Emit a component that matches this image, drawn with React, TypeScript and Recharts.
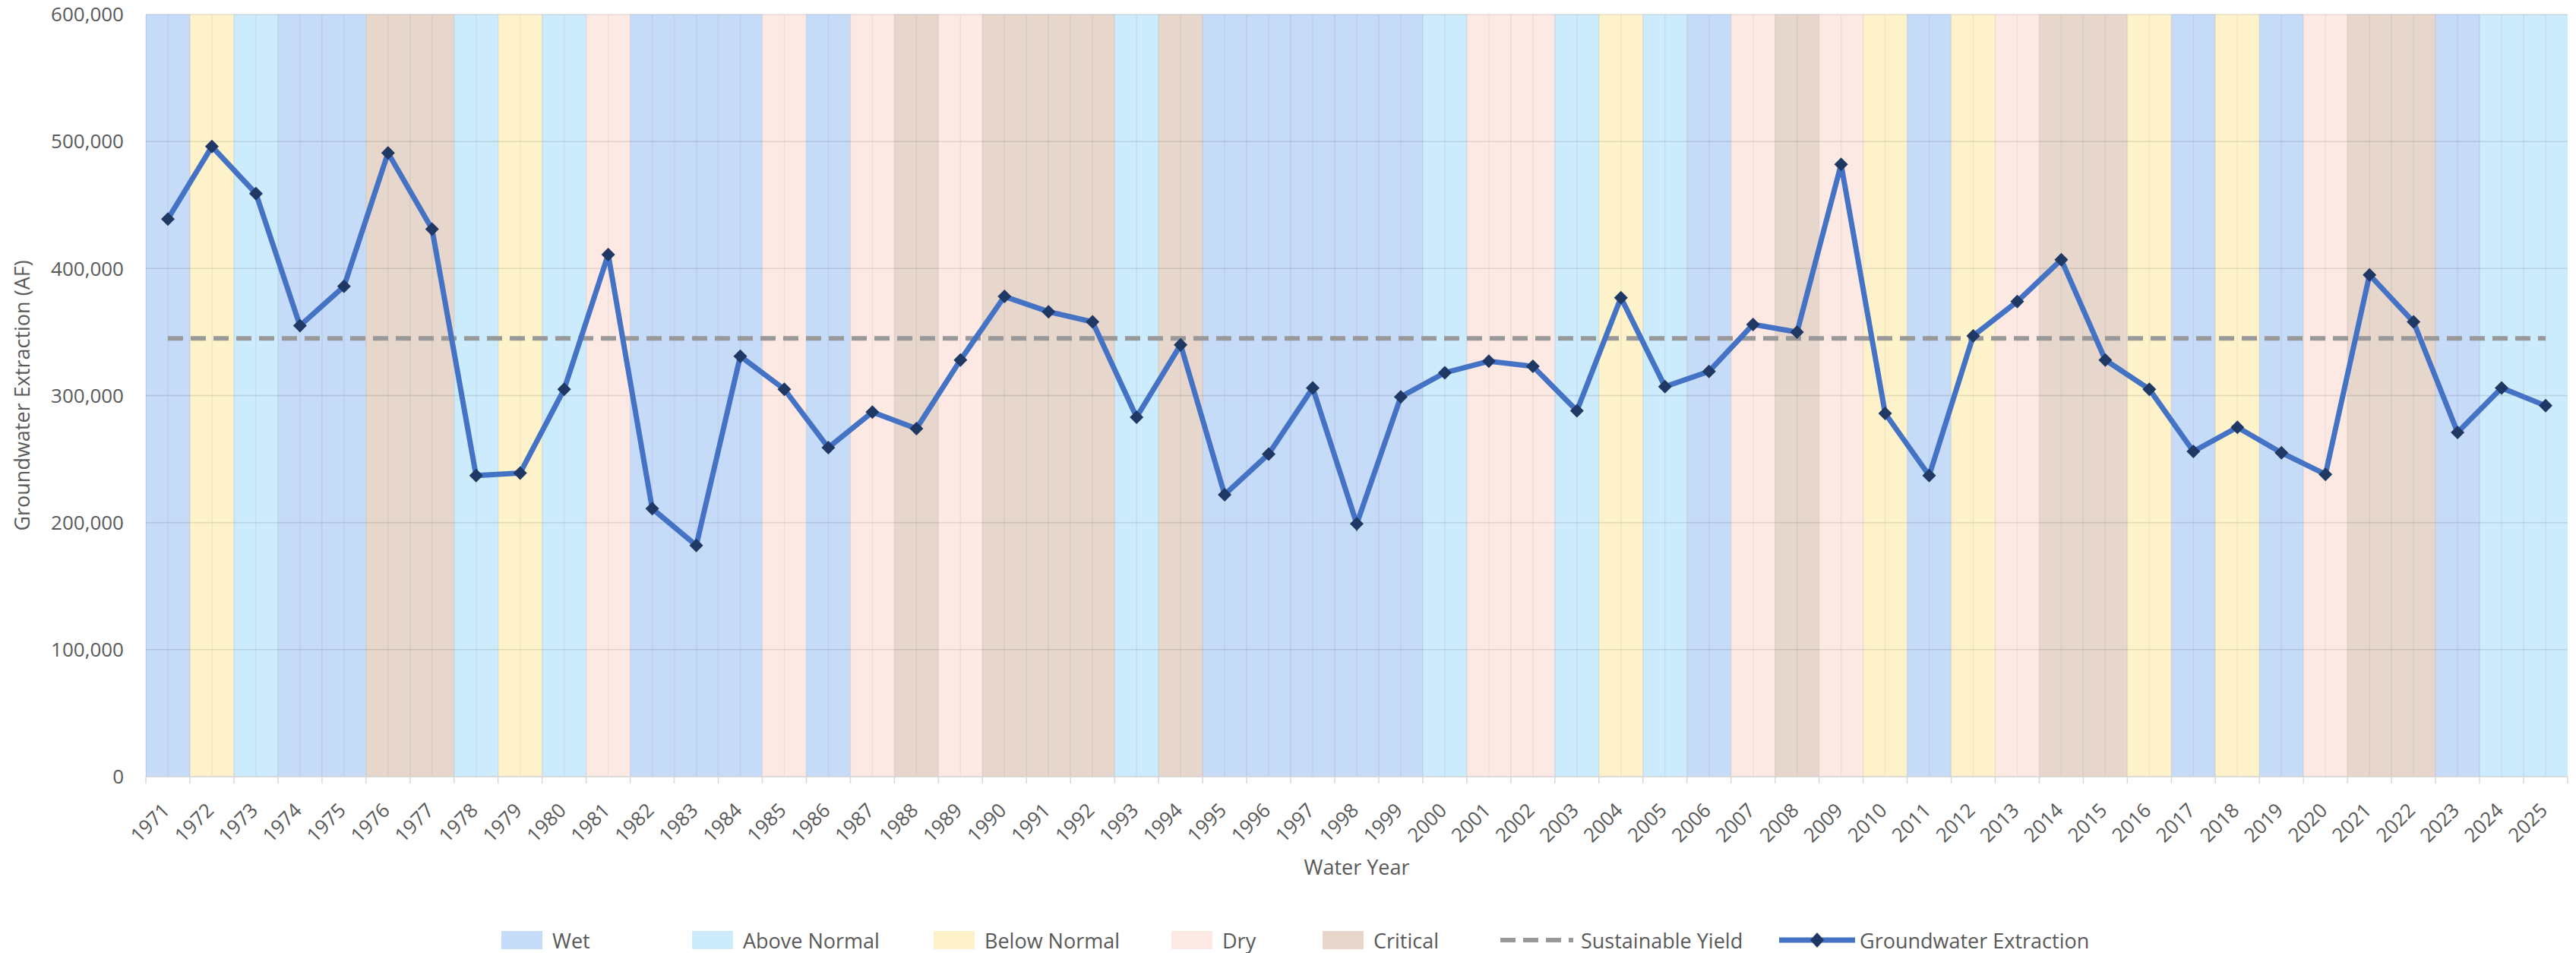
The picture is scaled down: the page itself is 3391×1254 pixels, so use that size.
import React from 'react';
import { ComposedChart, Bar, Line, XAxis, YAxis, ReferenceLine, Legend } from 'recharts';

const years = [
  '1971','1972','1973','1974','1975','1976','1977','1978','1979','1980',
  '1981','1982','1983','1984','1985','1986','1987','1988','1989','1990',
  '1991','1992','1993','1994','1995','1996','1997','1998','1999','2000',
  '2001','2002','2003','2004','2005','2006','2007','2008','2009','2010',
  '2011','2012','2013','2014','2015','2016','2017','2018','2019','2020',
  '2021','2022','2023','2024','2025',
];

const yearTypes = [
  'Wet','Below Normal','Above Normal','Wet','Wet','Critical','Critical','Above Normal','Below Normal','Above Normal',
  'Dry','Wet','Wet','Wet','Dry','Wet','Dry','Critical','Dry','Critical',
  'Critical','Critical','Above Normal','Critical','Wet','Wet','Wet','Wet','Wet','Above Normal',
  'Dry','Dry','Above Normal','Below Normal','Above Normal','Wet','Dry','Critical','Dry','Below Normal',
  'Wet','Below Normal','Dry','Critical','Critical','Below Normal','Wet','Below Normal','Wet','Dry',
  'Critical','Critical','Wet','Above Normal','Above Normal',
];

const extraction = [
  439000, 496000, 459000, 355000, 386000, 491000, 431000, 237000, 239000, 305000,
  411000, 211000, 182000, 331000, 305000, 259000, 287000, 274000, 328000, 378000,
  366000, 358000, 283000, 340000, 222000, 254000, 306000, 199000, 299000, 318000,
  327000, 323000, 288000, 377000, 307000, 319000, 356000, 350000, 482000, 286000,
  237000, 347000, 374000, 407000, 328000, 305000, 256000, 275000, 255000, 238000,
  395000, 358000, 271000, 306000, 292000,
];

const sustainableYield = 345000;
const yTicks = [0, 100000, 200000, 300000, 400000, 500000, 600000];
const typeNames = ['Wet', 'Above Normal', 'Below Normal', 'Dry', 'Critical'];
const bandTop = 600000;

// styles
const typeColors = ['#C6DBF8', '#CCEBFC', '#FEF2CB', '#FDE9E4', '#E6D6CB'];
const FONT = '"Open Sans", sans-serif';
const TEXT = '#595959';
const W = 3391;
const H = 1254;
const M = { top: 19, right: 11, left: 0, bottom: 0 };
const Y_W = 192;
const X_H = 198;
const LEG_H = 34;
const BW = (W - M.left - M.right - Y_W) / years.length;

const data = years.map((y, i) => ({
  year: y,
  type: yearTypes[i],
  band: bandTop,
  extraction: extraction[i],
  sustainable: sustainableYield,
}));

const BandShape = (props: any) => {
  const { x, y, width, height, payload } = props;
  if (!height || height <= 0) return null;
  const fill = typeColors[typeNames.indexOf(payload.type)];
  return (
    <g>
      <rect x={x} y={y} width={width} height={height} fill={fill} />
      <line x1={x} x2={x} y1={y} y2={y + height} stroke="rgba(0,0,0,0.07)" strokeWidth={1.5} />
      <line x1={x + width / 2} x2={x + width / 2} y1={y} y2={y + height} stroke="rgba(0,0,0,0.05)" strokeWidth={1.5} />
    </g>
  );
};

const Diamond = (props: any) => {
  const { cx, cy } = props;
  if (cx == null || cy == null) return null;
  const r = 9;
  return <polygon points={`${cx},${cy - r} ${cx + r},${cy} ${cx},${cy + r} ${cx - r},${cy}`} fill="#1F3864" />;
};

const XTick = (props: any) => {
  const { x, y, payload, index } = props;
  return (
    <g>
      <line x1={x - BW / 2} x2={x - BW / 2} y1={y} y2={y + 9} stroke="#d9d9d9" strokeWidth={1.5} />
      {index === years.length - 1 && (
        <line x1={x + BW / 2} x2={x + BW / 2} y1={y} y2={y + 9} stroke="#d9d9d9" strokeWidth={1.5} />
      )}
      <text
        transform={`translate(${x + 4},${y + 46}) rotate(-45)`}
        textAnchor="end"
        fill={TEXT}
        fontSize={26}
        fontFamily={FONT}
      >
        {payload.value}
      </text>
    </g>
  );
};

const XTitle = (props: any) => {
  const { viewBox } = props;
  return (
    <text x={viewBox.x + viewBox.width / 2} y={viewBox.y + 118} textAnchor="middle" dominantBaseline="central" fill={TEXT} fontSize={27} fontFamily={FONT}>
      Water Year
    </text>
  );
};

const YTitle = (props: any) => {
  const { viewBox } = props;
  const cx = 28;
  const cy = viewBox.y + viewBox.height / 2;
  return (
    <text x={cx} y={cy} transform={`rotate(-90, ${cx}, ${cy})`} textAnchor="middle" dominantBaseline="central" fill={TEXT} fontSize={27} fontFamily={FONT}>
      Groundwater Extraction (AF)
    </text>
  );
};

const legendItems = [
  { label: 'Wet', kind: 'patch', color: typeColors[0], left: 660 },
  { label: 'Above Normal', kind: 'patch', color: typeColors[1], left: 911 },
  { label: 'Below Normal', kind: 'patch', color: typeColors[2], left: 1229 },
  { label: 'Dry', kind: 'patch', color: typeColors[3], left: 1542 },
  { label: 'Critical', kind: 'patch', color: typeColors[4], left: 1741 },
  { label: 'Sustainable Yield', kind: 'dash', color: '#999999', left: 1975 },
  { label: 'Groundwater Extraction', kind: 'line', color: '#4472C4', left: 2342 },
];

const LegendBox = () => (
  <div style={{ position: 'relative', width: W - M.left - M.right, height: LEG_H, fontFamily: FONT, fontSize: 27, color: TEXT }}>
    {legendItems.map((it) => (
      <div key={it.label} style={{ position: 'absolute', left: it.left - M.left, top: 0, height: LEG_H, display: 'flex', alignItems: 'center', whiteSpace: 'nowrap' }}>
        {it.kind === 'patch' ? (
          <div style={{ width: 54, height: 24, background: it.color, marginRight: 13 }} />
        ) : (
          <svg width={100} height={24} style={{ marginRight: 6 }}>
            {it.kind === 'dash' ? (
              <line x1={0} x2={96} y1={12} y2={12} stroke={it.color} strokeWidth={6} strokeDasharray="20 10" />
            ) : (
              <g>
                <line x1={0} x2={100} y1={12} y2={12} stroke={it.color} strokeWidth={7} />
                <polygon points="50,2 59,12 50,22 41,12" fill="#1F3864" />
              </g>
            )}
          </svg>
        )}
        <span>{it.label}</span>
      </div>
    ))}
  </div>
);

export default function App() {
  return (
    <div style={{ position: 'absolute', left: 0, top: 0, width: W, height: H, background: '#fff' }}>
      <ComposedChart width={W} height={H} data={data} margin={M} barCategoryGap={0} barGap={0}>
        <XAxis
          dataKey="year"
          interval={0}
          height={X_H}
          tickSize={0}
          tickMargin={0}
          tick={<XTick />}
          axisLine={{ stroke: '#d9d9d9', strokeWidth: 1.5 }}
          label={<XTitle />}
        />
        <YAxis
          width={Y_W}
          domain={[0, 600000]}
          ticks={yTicks}
          allowDataOverflow
          axisLine={false}
          tickLine={false}
          tickSize={0}
          tickMargin={29}
          tick={{ fill: TEXT, fontSize: 26, fontFamily: FONT }}
          tickFormatter={(v: number) => v.toLocaleString('en-US')}
          label={<YTitle />}
        />
        <Bar dataKey="band" shape={<BandShape />} isAnimationActive={false} legendType="none" />
        {yTicks.map((v) => (
          <ReferenceLine key={v} y={v} stroke="rgba(0,0,0,0.1)" strokeWidth={1.5} />
        ))}
        <Line
          dataKey="sustainable"
          stroke="#999999"
          strokeWidth={6}
          strokeDasharray="20 10"
          dot={false}
          activeDot={false}
          isAnimationActive={false}
        />
        <Line
          dataKey="extraction"
          stroke="#4472C4"
          strokeWidth={7}
          dot={<Diamond />}
          activeDot={false}
          isAnimationActive={false}
        />
        <Legend verticalAlign="bottom" height={LEG_H} content={() => <LegendBox />} />
      </ComposedChart>
    </div>
  );
}
